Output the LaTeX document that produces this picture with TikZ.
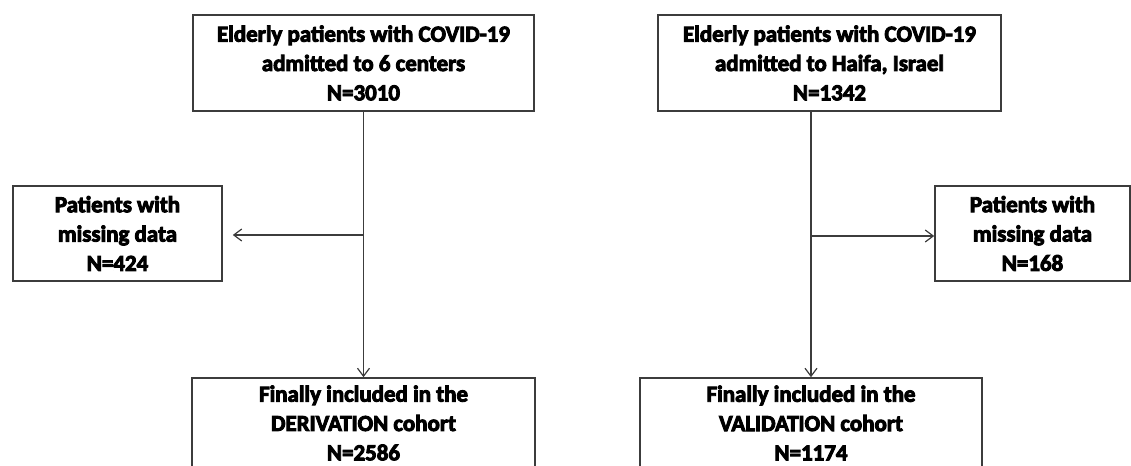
\documentclass[tikz,border=0pt]{standalone}
\usepackage{fontspec}
\setmainfont{Carlito}[BoldFeatures={FakeBold=4}]
\usetikzlibrary{arrows.meta}

\definecolor{linegray}{RGB}{60,60,60}

\tikzset{every picture/.style={line width=0.75pt}}
\tikzset{
  flowbox/.style={draw=linegray, line width=1.2pt, align=center, inner sep=0pt,
    font=\fontsize{17.2}{22}\selectfont\bfseries},
  flowline/.style={draw=linegray, line width=1.2pt},
  flowarrow/.style={flowline, -{Straight Barb[length=6pt,width=9pt,line width=0.9pt]}}
}

\begin{document}
\begin{tikzpicture}[x=0.75pt,y=0.75pt,yscale=-1,xscale=1]
	\useasboundingbox (0,0) rectangle (1131,466);
	\clip (0,0) rectangle (1131,466);

	% top boxes
	\node [flowbox, minimum width=341*0.75pt, minimum height=96*0.75pt] (topL) at (363.5,63) {Elderly patients with COVID-19\\admitted to 6 centers\\N=3010};
	\node [flowbox, minimum width=343*0.75pt, minimum height=96*0.75pt] (topR) at (829.5,63) {Elderly patients with COVID-19\\admitted to Haifa, Israel\\N=1342};

	% excluded
	\node [flowbox, minimum width=209*0.75pt, minimum height=95*0.75pt] (missL) at (117.5,233.5) {Patients with\\missing data\\N=424};
	\node [flowbox, minimum width=195*0.75pt, minimum height=95*0.75pt] (missR) at (1032.5,233.5) {Patients with\\missing data\\N=168};

	% final cohorts
	\node [flowbox, minimum width=343*0.75pt, minimum height=90*0.75pt] (finL) at (363.5,423) {Finally included in the\\DERIVATION cohort\\N=2586};
	\node [flowbox, minimum width=342*0.75pt, minimum height=90*0.75pt] (finR) at (811,423) {Finally included in the\\VALIDATION cohort\\N=1174};

	% connectors
	\coordinate (brL) at (363.5,235);
	\coordinate (topRout) at (finR.north |- topR.south);
	\coordinate (brR) at (811,236);
	\draw [flowarrow] (topL.south) -- (finL.north);
	\draw [flowarrow, shorten >=7.5pt] (brL) -- (brL -| missL.east);
	\draw [flowarrow] (topRout) -- (finR.north);
	\draw [flowarrow] (brR) -- (brR -| missR.west);

\end{tikzpicture}
\end{document}
